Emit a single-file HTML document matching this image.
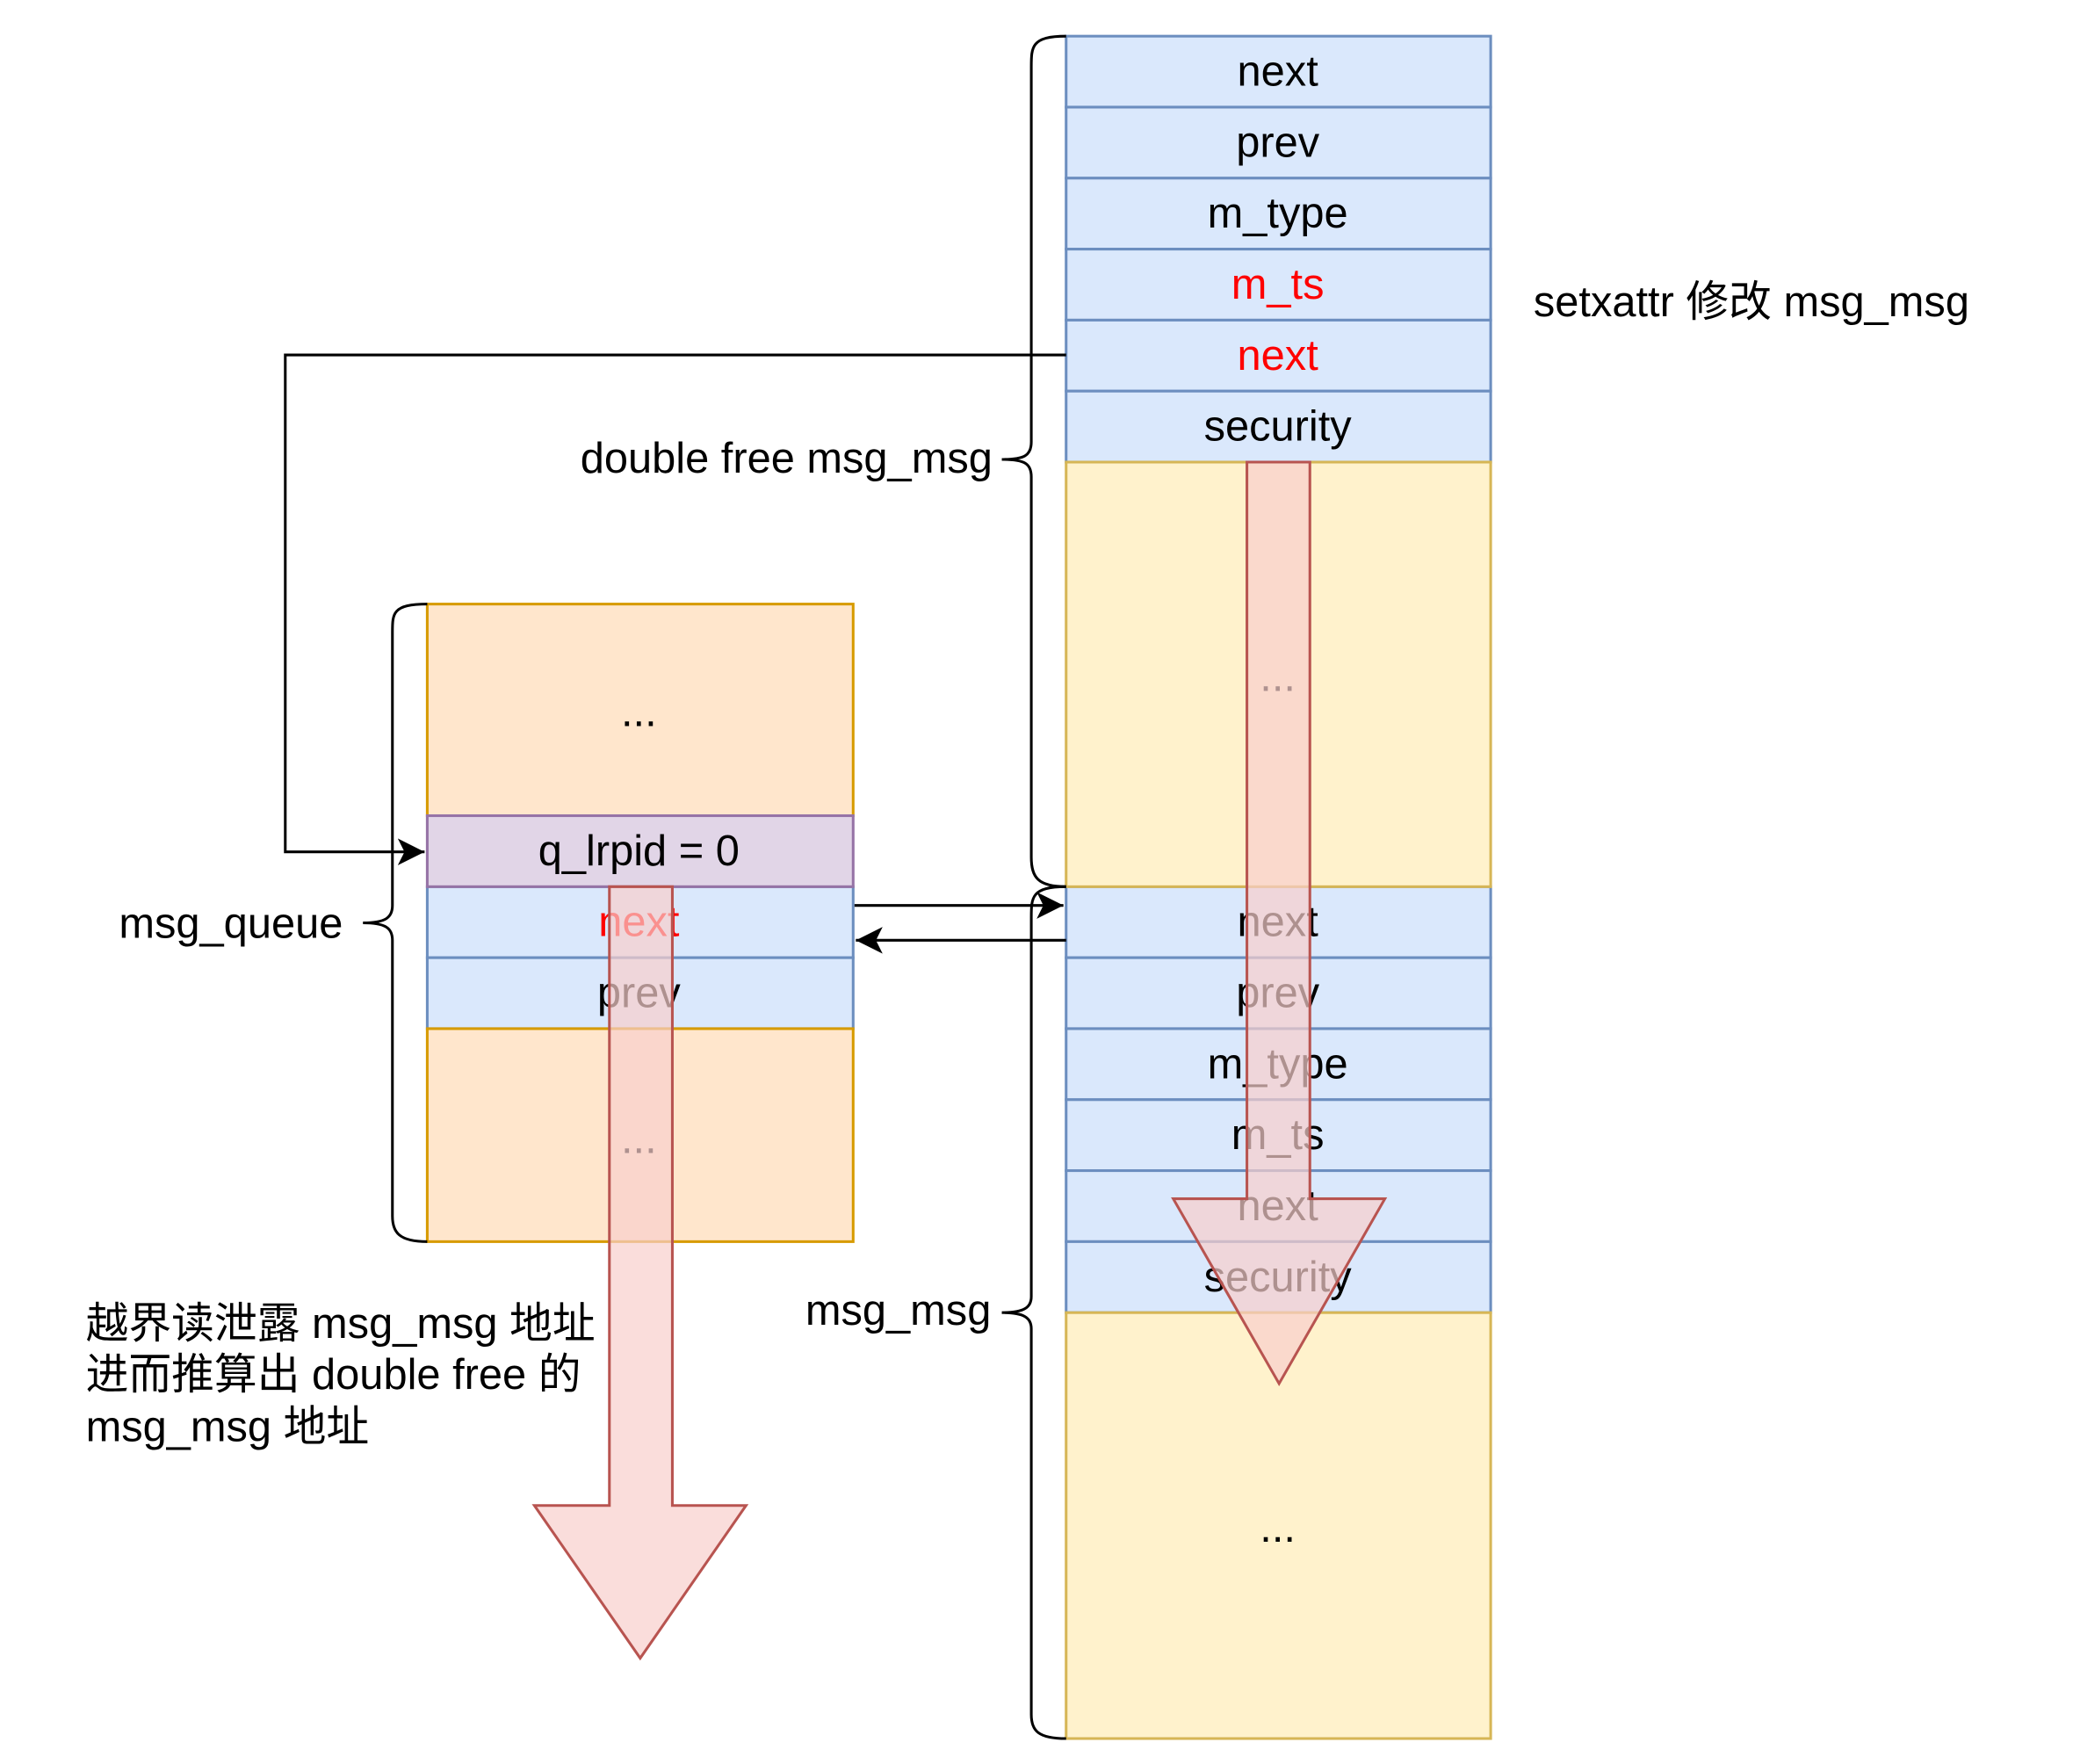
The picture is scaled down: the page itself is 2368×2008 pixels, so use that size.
<!DOCTYPE html>
<html><head><meta charset="utf-8"><style>html,body{margin:0;padding:0;background:#fff}svg{display:block}</style></head>
<body>
<svg width="2368" height="2008" viewBox="0 0 1553 1317" preserveAspectRatio="none" xmlns="http://www.w3.org/2000/svg" font-family="'Liberation Sans','Noto Sans CJK SC',sans-serif" font-size="32">
<defs>
<marker id="ah2" markerWidth="22" markerHeight="20" refX="20" refY="10" orient="auto" markerUnits="userSpaceOnUse"><path d="M0,0 L20,10 L0,20 L5,10 z" fill="#000"/></marker></defs>
<g stroke="#6c8ebf" stroke-width="2" fill="#dae8fc">
<rect x="796" y="27" width="317" height="53"/><rect x="796" y="80" width="317" height="53"/><rect x="796" y="133" width="317" height="53"/><rect x="796" y="186" width="317" height="53"/><rect x="796" y="239" width="317" height="53"/><rect x="796" y="292" width="317" height="53"/>
<rect x="796" y="662" width="317" height="53"/><rect x="796" y="715" width="317" height="53"/><rect x="796" y="768" width="317" height="53"/><rect x="796" y="821" width="317" height="53"/><rect x="796" y="874" width="317" height="53"/><rect x="796" y="927" width="317" height="53"/>
<rect x="319" y="662" width="318" height="53"/><rect x="319" y="715" width="318" height="53"/>
</g>
<rect x="796" y="345" width="317" height="317" fill="#fff2cc" stroke="#d6b656" stroke-width="2"/>
<rect x="796" y="980" width="317" height="318" fill="#fff2cc" stroke="#d6b656" stroke-width="2"/>
<rect x="319" y="451" width="318" height="158" fill="#ffe6cc" stroke="#d79b00" stroke-width="2"/>
<rect x="319" y="768" width="318" height="159" fill="#ffe6cc" stroke="#d79b00" stroke-width="2"/>
<rect x="319" y="609" width="318" height="53" fill="#e1d5e7" stroke="#9673a6" stroke-width="2"/>
<g text-anchor="middle">
<text x="954" y="64">next</text><text x="954" y="117">prev</text><text x="954" y="170">m_type</text>
<text x="954" y="223" fill="#ff0000">m_ts</text><text x="954" y="276" fill="#ff0000">next</text><text x="954" y="329">security</text>
<text x="954" y="516">...</text>
<text x="954" y="699">next</text><text x="954" y="752">prev</text><text x="954" y="805">m_type</text><text x="954" y="858">m_ts</text><text x="954" y="911">next</text><text x="954" y="964">security</text>
<text x="954" y="1151">...</text>
<text x="477" y="542">...</text><text x="477" y="646">q_lrpid = 0</text>
<text x="477" y="699" fill="#ff0000">next</text><text x="477" y="752">prev</text><text x="477" y="861">...</text>
</g>
<g fill="none" stroke="#000" stroke-width="2">
<path d="M796,27 C770,27 770,35 770,50 L770,330 C770,340 765,343 748,343 C765,343 770,346 770,356 L770,640 C770,655 775,662 796,662"/>
<path d="M796,662 C770,662 770,670 770,685 L770,968 C770,976 765,980 748,980 C765,980 770,984 770,992 L770,1280 C770,1292 775,1298 796,1298"/>
<path d="M319,451 C293,451 293,458 293,472 L293,676 C293,685 288,689 271,689 C288,689 293,693 293,702 L293,908 C293,920 298,927 319,927"/>
<path d="M796,265 L213,265 L213,636 L317,636" marker-end="url(#ah2)"/>
<path d="M638,676 L794,676" marker-end="url(#ah2)"/>
<path d="M796,702 L639,702" marker-end="url(#ah2)"/>
</g>
<path d="M931,345 L978,345 L978,895 L1034,895 L955,1033 L876,895 L931,895 Z" fill="#f8cecc" fill-opacity="0.7" stroke="#b85450" stroke-width="2"/>
<path d="M455,662 L502,662 L502,1124 L557,1124 L478,1238 L399,1124 L455,1124 Z" fill="#f8cecc" fill-opacity="0.7" stroke="#b85450" stroke-width="2"/>
<text x="741" y="353" text-anchor="end">double free msg_msg</text>
<text x="740" y="989" text-anchor="end">msg_msg</text>
<text x="256" y="700" text-anchor="end">msg_queue</text>
<text x="1145" y="236">setxattr 修改 msg_msg</text>
<text x="64" y="999">越界读泄露 msg_msg 地址</text>
<text x="64" y="1037">进而推算出 double free 的</text>
<text x="64" y="1076">msg_msg 地址</text>
</svg>
</body></html>
